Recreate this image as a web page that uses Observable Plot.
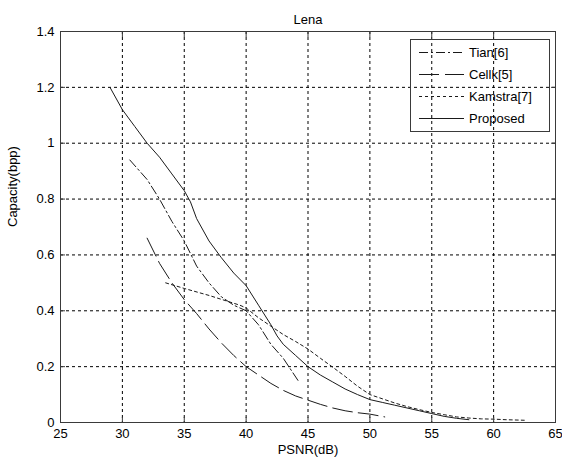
<!DOCTYPE html>
<html><head><meta charset="utf-8">
<script src="https://cdn.jsdelivr.net/npm/d3@7"></script>
<script src="https://cdn.jsdelivr.net/npm/@observablehq/plot@0.6"></script>
<style>body{margin:0;background:#fff}</style>
</head><body><div id="chart"></div>
<script>
const title = "Lena";
const xLabel = "PSNR(dB)";
const yLabel = "Capacity(bpp)";
const xTicks = [25, 30, 35, 40, 45, 50, 55, 60, 65];
const yTicks = [0, 0.2, 0.4, 0.6, 0.8, 1, 1.2, 1.4];
const seriesNames = ["Tian[6]", "Cellk[5]", "Kamstra[7]", "Proposed"];

const tianX = [30.6, 32, 33, 34, 35, 36, 37, 38, 39, 40, 41, 42, 43, 44.2];
const tianY = [0.94, 0.87, 0.80, 0.72, 0.65, 0.56, 0.50, 0.45, 0.42, 0.40, 0.35, 0.28, 0.23, 0.15];

const celikX = [32, 33, 34, 35, 36, 37, 38, 39, 40, 41, 42, 43, 44, 45, 46, 47, 48, 49, 50, 51.2];
const celikY = [0.66, 0.57, 0.50, 0.44, 0.39, 0.335, 0.285, 0.24, 0.20, 0.17, 0.14, 0.115, 0.095, 0.08, 0.065, 0.052, 0.042, 0.035, 0.03, 0.02];

const kamstraX = [33.5, 35, 37, 39.5, 40, 41, 42, 43, 44, 45, 46, 47, 48, 49, 50, 51, 52, 53, 54, 55, 56, 57, 58, 59, 60, 61, 62.5];
const kamstraY = [0.50, 0.48, 0.455, 0.42, 0.41, 0.375, 0.345, 0.315, 0.29, 0.263, 0.23, 0.198, 0.165, 0.13, 0.10, 0.085, 0.07, 0.057, 0.046, 0.036, 0.028, 0.02, 0.016, 0.013, 0.012, 0.01, 0.008];

const proposedX = [29, 30, 31, 32, 33, 34, 35, 35.5, 36, 37, 38, 39, 40, 41, 42, 42.5, 43, 44, 45, 46, 47, 48, 49, 50, 51, 52, 53, 54, 55, 56, 57, 58];
const proposedY = [1.2, 1.12, 1.06, 1.0, 0.95, 0.89, 0.83, 0.79, 0.73, 0.65, 0.59, 0.535, 0.49, 0.42, 0.35, 0.31, 0.28, 0.24, 0.20, 0.17, 0.145, 0.12, 0.10, 0.082, 0.072, 0.062, 0.052, 0.042, 0.032, 0.022, 0.015, 0.01];

const dashes = ["9,3,2,3", "20,6", "3,3", null];
const toRows = (xs, ys) => xs.map((x, i) => ({x, y: ys[i]}));
const series = [toRows(tianX, tianY), toRows(celikX, celikY), toRows(kamstraX, kamstraY), toRows(proposedX, proposedY)];

const lineColor = "#1a1a1a";
const axisColor = "#3a3a3a";

function legendMark(index, scales, values, dims) {
  const g = d3.create("svg:g");
  const right = dims.width - dims.marginRight - 6;
  const left = right - 139;
  const top = dims.marginTop + 8;
  const rowH = 22;
  g.append("rect").attr("x", left + 0.5).attr("y", top + 0.5)
    .attr("width", right - left).attr("height", 92)
    .attr("fill", "none").attr("stroke", axisColor).attr("stroke-width", 1);
  seriesNames.forEach((name, i) => {
    const cy = top + 13 + i * rowH;
    const ln = g.append("line").attr("x1", left + 9).attr("x2", left + 54)
      .attr("y1", cy + 0.5).attr("y2", cy + 0.5)
      .attr("stroke", lineColor).attr("stroke-width", 1);
    if (dashes[i]) ln.attr("stroke-dasharray", dashes[i]);
    g.append("text").attr("x", left + 59).attr("y", cy).attr("dy", "0.35em")
      .attr("text-anchor", "start")
      .attr("fill", "#000").style("font-size", "13px").text(name);
  });
  return g.node();
}

const chart = Plot.plot({
  width: 562,
  height: 463,
  marginLeft: 60,
  marginRight: 7,
  marginTop: 31,
  marginBottom: 41,
  style: {fontFamily: "'Liberation Sans', Arial, sans-serif", fontSize: "13px", background: "#fff", color: "#000"},
  x: {domain: [25, 65], ticks: xTicks},
  y: {domain: [0, 1.4], ticks: yTicks},
  marks: [
    Plot.gridX(xTicks.slice(1, -1), {stroke: "#000", strokeOpacity: 1, strokeDasharray: "3,3"}),
    Plot.gridY(yTicks.slice(1, -1), {stroke: "#000", strokeOpacity: 1, strokeDasharray: "3,3"}),
    ...series.map((rows, i) => Plot.line(rows, {x: "x", y: "y", stroke: lineColor, strokeWidth: 1, strokeDasharray: dashes[i] ?? undefined})),
    Plot.frame({stroke: axisColor}),
    Plot.axisX(xTicks, {anchor: "bottom", tickSize: -5, tickPadding: 11, stroke: axisColor, tickFormat: d => String(d), label: null}),
    Plot.axisX(xTicks, {anchor: "top", tickSize: -5, stroke: axisColor, tickFormat: () => "", label: null}),
    Plot.axisY(yTicks, {anchor: "left", tickSize: -5, tickPadding: 11, stroke: axisColor, tickFormat: d => String(d), label: null}),
    Plot.axisY(yTicks, {anchor: "right", tickSize: -5, stroke: axisColor, tickFormat: () => "", label: null}),
    Plot.text([title], {frameAnchor: "top", dy: -17, fontSize: 13}),
    Plot.text([xLabel], {frameAnchor: "bottom", dy: 31, fontSize: 13}),
    Plot.text([yLabel], {frameAnchor: "left", dx: -48, rotate: -90, fontSize: 13}),
    legendMark
  ]
});
document.getElementById("chart").appendChild(chart);
</script>
</body></html>
